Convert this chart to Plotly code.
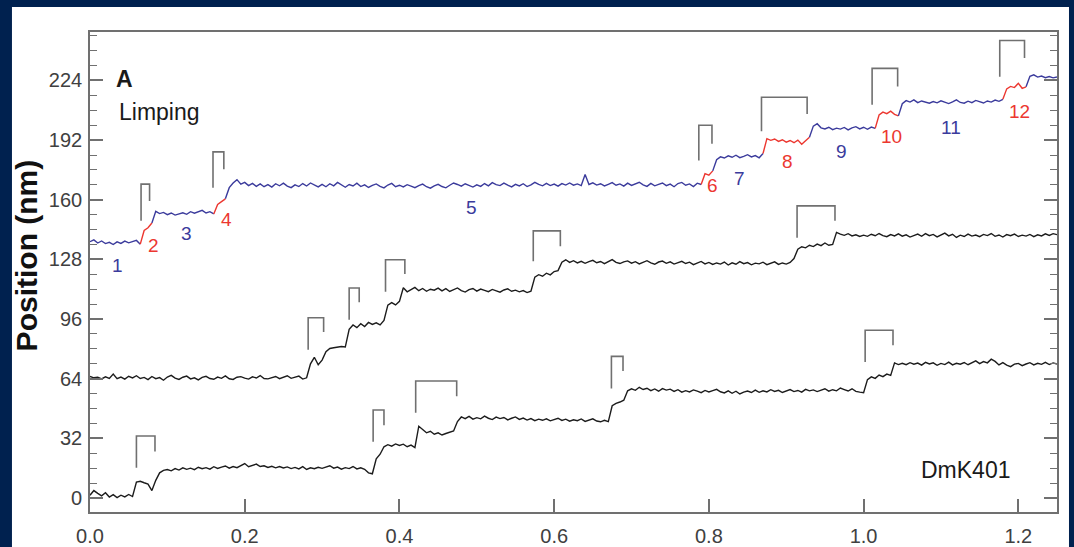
import plotly.graph_objects as go

# ---------------- data ----------------
SAMPLE_DT = 0.005  # s between samples

limping_nm = [
    137.5, 138.5, 136.8, 137.9, 136.5, 137.2, 136.0, 137.4, 136.6, 137.8,
    136.9, 137.5, 138.2, 136.2, 143.5, 145.0, 147.5, 153.8, 152.6, 153.2,
    152.0, 152.9, 151.8, 152.5, 153.0, 152.2, 153.6, 152.8, 153.4, 154.3,
    152.9, 153.6, 152.4, 157.5, 159.0, 160.5, 166.5, 169.0, 170.8, 168.4,
    169.3, 167.6, 168.8, 167.2, 168.5, 167.0, 168.1, 166.8, 168.6, 167.5,
    168.9, 167.3, 166.5, 168.0, 167.1, 168.7, 167.4, 169.0, 167.9, 166.9,
    168.3, 167.0, 168.6, 167.5, 169.3, 167.8, 166.7, 168.2, 167.4, 168.9,
    167.1, 168.0, 166.6, 167.7, 168.5, 167.2, 166.4, 167.9, 168.8, 167.0,
    167.8, 166.9, 168.1, 167.3, 166.5, 167.6, 168.4, 167.0, 166.2, 167.5,
    168.3, 167.1, 166.4, 167.8, 169.0, 168.2, 167.3, 168.6, 167.7, 166.8,
    168.0, 167.2, 168.7, 167.5, 169.2, 168.1, 167.6, 168.9, 167.8, 166.9,
    168.3, 167.4, 168.6, 167.1, 168.0, 169.3, 168.2, 167.5, 168.8, 167.6,
    168.4, 167.3, 168.7, 167.9, 169.0, 167.8, 168.5, 167.6, 173.5, 168.2,
    169.1, 167.9, 168.6, 167.4, 168.3, 169.2, 167.8, 168.5, 167.3, 168.9,
    167.7, 168.6, 169.4, 168.0, 167.2, 168.8, 167.5, 168.3, 169.0, 167.6,
    168.4, 167.0, 168.7, 169.3, 167.8, 168.5, 167.1, 168.9, 168.2, 174.0,
    173.2, 175.5, 181.5, 183.0, 182.4, 183.6, 182.8, 183.9, 182.6, 183.3,
    184.2, 183.0, 183.7, 182.5, 184.8, 192.8, 191.9, 192.6, 191.3, 192.2,
    190.9, 191.8, 190.6, 192.0, 189.8, 191.4, 193.5, 199.5, 200.8, 198.6,
    198.0, 198.9, 197.6, 198.4, 197.9, 198.8, 197.5, 198.6, 199.2, 198.0,
    198.9, 197.8, 199.0, 198.3, 205.5, 207.0, 206.2, 207.5, 205.8, 205.0,
    211.5, 213.2, 212.4, 213.6, 212.1, 213.0, 212.3, 211.8, 212.7, 212.0,
    213.1, 212.4, 211.6, 212.5, 213.6, 212.2, 211.8, 212.9, 212.1, 213.3,
    212.5, 211.9, 213.0, 212.4, 213.5, 212.8, 213.9, 219.5, 220.8, 220.2,
    222.5, 219.8, 220.6, 226.2, 227.0, 225.8, 226.4, 225.5, 226.1, 225.4,
    225.9,
]
# dwell segments of the limping trace: start/end times and colour
limp_seg_edges = [0.0, 0.065, 0.08, 0.16, 0.175, 0.79, 0.805, 0.87, 0.93, 1.015, 1.045, 1.18, 1.21, 1.25]
limp_seg_kind = ["blue", "red", "blue", "red", "blue", "red", "blue", "red", "blue", "red", "blue", "red", "blue"]

middle_nm = [
    65.2, 64.5, 64.8, 63.9, 65.0, 64.2, 66.5, 64.0, 64.9, 63.8,
    65.3, 64.4, 65.6, 64.1, 64.7, 63.5, 65.2, 64.0, 64.6, 63.2,
    64.9, 65.8, 64.3, 63.6, 64.8, 65.4, 63.9, 64.5, 63.4, 64.7,
    65.3, 64.1, 63.7, 64.9, 64.2, 65.5, 64.0, 63.6, 64.8, 65.1,
    64.3, 63.8, 65.0, 64.4, 65.7, 64.1, 63.9, 64.6, 65.2, 64.0,
    64.8, 65.6, 64.2, 64.9, 65.4, 63.8, 64.5, 72.0, 75.5, 71.5,
    74.0, 78.5, 80.2, 80.6, 80.9, 81.3, 81.0, 90.5, 92.8, 91.4,
    93.5, 92.0, 94.2, 93.1, 94.0, 92.9, 95.3, 103.5, 104.8, 103.6,
    105.5, 112.8, 110.6, 111.8, 113.0, 111.2, 112.4, 110.9, 112.0, 111.5,
    112.6, 111.1, 112.3, 110.8, 111.9, 112.7, 111.3, 110.5, 111.8, 112.4,
    111.0, 112.1, 111.4, 110.7, 111.9, 111.2, 110.4, 111.6, 112.2, 110.9,
    111.5, 110.6, 111.3, 110.2, 111.0, 118.5, 119.8, 119.0, 120.6, 119.7,
    121.5, 122.0, 126.5, 127.8, 126.4, 127.3, 126.1, 127.0, 125.9, 126.8,
    127.5, 126.2, 126.9, 125.7, 126.6, 127.9, 126.4, 125.8, 126.7, 127.2,
    126.0, 126.8, 125.6, 126.5, 127.3, 126.1, 125.4, 126.6, 127.1, 125.9,
    126.7, 125.5, 126.3, 127.0, 125.8, 126.5, 125.2, 126.0, 126.9, 125.6,
    126.4, 125.3, 126.1, 125.5, 126.6, 125.0, 126.2, 125.4, 126.8, 125.7,
    126.3, 125.1, 126.0, 125.6, 126.5, 125.2, 125.9, 126.7, 125.3, 126.1,
    125.5, 126.4, 128.5, 133.5, 134.8, 134.2, 135.6, 134.9, 136.2, 135.4,
    136.8, 135.6, 136.0, 142.5, 141.6, 140.9, 141.8, 140.6, 141.2, 140.3,
    141.0, 140.4, 141.5, 140.7, 141.9, 140.8, 140.2, 141.3, 140.6, 141.7,
    140.5, 141.2, 140.0, 140.9, 141.6, 140.4, 141.8, 140.7, 141.4, 140.1,
    141.2, 142.1, 140.6, 141.5, 139.8, 141.0, 140.3, 141.6, 140.5, 141.1,
    140.2, 141.4, 140.8, 141.9, 140.4, 141.1, 140.0, 141.3, 140.7, 141.6,
    140.3, 141.0, 140.5, 141.4, 140.2, 141.2, 140.6, 141.7, 140.9, 141.8,
    141.3,
]

bottom_nm = [
    1.5, 4.0, 2.5, 1.2, 2.8, 0.5, 1.8, 0.2, 1.5, 0.6,
    1.9, 0.8, 8.5, 9.0, 8.2, 7.5, 4.0, 9.5, 13.5, 14.8,
    15.3, 14.6, 15.8, 15.0, 16.2, 15.4, 16.0, 15.2, 16.5, 15.7,
    16.3, 15.5, 16.8, 15.9, 16.6, 17.2, 16.0, 16.9, 16.3, 17.5,
    18.5, 16.8, 17.6, 18.2, 16.9, 17.3, 16.4, 17.0, 16.2, 16.9,
    16.1, 16.7, 15.8, 16.4, 15.6, 16.8, 15.3, 16.2, 15.7, 16.5,
    15.9, 16.7, 17.3, 16.0, 16.6, 15.5, 16.3, 15.8, 16.9, 15.6,
    16.2, 15.4, 13.5, 13.0, 21.0, 23.5, 27.5, 28.6, 27.8, 29.0,
    28.2, 28.9, 27.5, 28.4, 27.0, 38.5, 36.5, 35.0, 35.8, 34.2,
    35.0, 33.8, 34.6, 35.2, 36.0, 41.0, 43.5, 42.6, 43.8, 42.3,
    43.1, 42.5, 43.9, 42.8, 42.1, 43.4, 42.6, 43.2, 41.9, 42.8,
    43.5, 42.2, 42.9, 41.8, 42.6, 41.5, 42.3, 41.7, 42.5, 41.4,
    42.0, 42.8, 41.6, 42.3, 41.2, 42.0, 41.5, 42.4, 41.1, 41.8,
    42.5, 41.3, 40.9, 41.7, 41.0, 49.5, 50.8, 51.5, 52.5, 57.5,
    58.6, 57.8, 59.4, 58.2, 58.9, 57.6, 58.5, 57.3, 58.7, 57.9,
    58.4, 57.2, 58.1, 56.8, 57.6, 56.9, 58.0, 57.3, 56.5, 57.7,
    56.9, 57.6, 58.3, 57.0, 56.4, 57.5, 56.2, 57.3, 55.8, 56.8,
    57.4, 56.6, 57.9, 56.7, 57.5, 56.9, 58.1, 57.2, 57.8, 56.6,
    57.4, 58.2, 57.1, 57.7, 56.8, 58.3, 57.5, 58.0, 57.1, 57.9,
    58.6, 57.3, 58.1, 57.5, 59.0, 58.2, 57.4, 58.6, 57.2, 56.8,
    56.5, 63.5, 65.0, 64.2, 66.0, 65.1, 66.5, 65.8, 72.5, 71.6,
    72.3, 71.5, 72.6, 71.8, 72.4, 71.3, 72.8, 71.9, 72.5, 71.2,
    72.2, 71.6, 72.9, 71.4, 72.3, 71.8, 72.7, 71.5, 72.4, 73.6,
    72.1, 73.2, 72.5, 74.5, 73.3, 71.4, 72.6, 71.3, 70.5, 71.8,
    72.2, 71.0, 71.9, 72.6, 71.4, 72.3, 71.7, 72.8, 71.6, 72.5,
    71.9,
]

# step brackets: left time, right time, top, bottom of left leg, bottom of right leg
bracket_t0 = [0.066, 0.159, 0.787, 0.868, 1.011, 1.176, 0.282, 0.335, 0.382, 0.573, 0.914, 0.060, 0.366, 0.421, 0.674, 1.002]
bracket_t1 = [0.077, 0.173, 0.804, 0.927, 1.044, 1.208, 0.302, 0.348, 0.407, 0.608, 0.963, 0.084, 0.380, 0.474, 0.689, 1.038]
bracket_top = [168.4, 185.7, 200.0, 215.0, 230.5, 245.4, 96.7, 112.7, 127.8, 143.3, 156.7, 33.3, 47.2, 62.8, 76.0, 90.0]
bracket_lbot = [148.7, 166.5, 181.0, 196.7, 211.0, 226.0, 79.6, 95.6, 110.7, 127.0, 139.6, 16.2, 30.2, 45.7, 58.8, 73.0]
bracket_rbot = [159.3, 176.4, 190.0, 206.0, 220.7, 236.0, 89.0, 105.0, 120.2, 135.0, 148.7, 24.9, 39.0, 54.6, 68.2, 81.9]

# dwell labels of the limping trace
dwell_labels = ["1", "2", "3", "4", "5", "6", "7", "8", "9", "10", "11", "12"]
dwell_label_t = [0.036, 0.082, 0.125, 0.177, 0.493, 0.805, 0.839, 0.901, 0.971, 1.036, 1.113, 1.201]
dwell_label_nm = [124.6, 135.3, 141.7, 149.6, 155.6, 167.4, 171.6, 180.7, 186.0, 194.0, 198.9, 207.4]
dwell_label_kind = ["blue", "red", "blue", "red", "blue", "red", "blue", "red", "blue", "red", "blue", "red"]

x_ticks = [0.0, 0.2, 0.4, 0.6, 0.8, 1.0, 1.2]
y_ticks = [0, 32, 64, 96, 128, 160, 192, 224]

# ---------------- styling ----------------
NAVY = "#00214f"
BLUE = "#3b3b9c"
RED = "#ec3730"
BLACK = "#1c1c1c"
GRAY = "#707070"
FONT = "Liberation Sans, Arial, Helvetica, sans-serif"
COL = {"blue": BLUE, "red": RED}


def times(n):
    return [round(i * SAMPLE_DT, 4) for i in range(n)]


fig = go.Figure()

# black traces
for vals in (middle_nm, bottom_nm):
    fig.add_trace(go.Scatter(x=times(len(vals)), y=vals, mode="lines",
                             line=dict(color=BLACK, width=1.4),
                             hoverinfo="skip", showlegend=False))

# limping trace by segments
t_limp = times(len(limping_nm))
for k, kind in enumerate(limp_seg_kind):
    i0 = int(round(limp_seg_edges[k] / SAMPLE_DT))
    i1 = int(round(limp_seg_edges[k + 1] / SAMPLE_DT))
    fig.add_trace(go.Scatter(x=t_limp[i0:i1 + 1], y=limping_nm[i0:i1 + 1], mode="lines",
                             line=dict(color=COL[kind], width=1.4),
                             hoverinfo="skip", showlegend=False))

# brackets
bx, by = [], []
for a, b, top, lb, rb in zip(bracket_t0, bracket_t1, bracket_top, bracket_lbot, bracket_rbot):
    bx += [a, a, b, b, None]
    by += [lb, top, top, rb, None]
fig.add_trace(go.Scatter(x=bx, y=by, mode="lines", line=dict(color=GRAY, width=1.6),
                         hoverinfo="skip", showlegend=False))

# dwell labels
for txt, t, v, kind in zip(dwell_labels, dwell_label_t, dwell_label_nm, dwell_label_kind):
    fig.add_annotation(x=t, y=v, text=txt, showarrow=False,
                       font=dict(family=FONT, size=19, color=COL[kind]))

fig.add_annotation(x=0.045, y=225, xanchor="center", text="<b>A</b>", showarrow=False,
                   font=dict(family=FONT, size=23, color="#1a1a1a"))
fig.add_annotation(x=0.035, y=207, xanchor="left", text="Limping", showarrow=False,
                   font=dict(family=FONT, size=23, color="#1a1a1a"))
fig.add_annotation(x=1.071, y=15, xanchor="left", text="DmK401", showarrow=False,
                   font=dict(family=FONT, size=23, color="#1a1a1a"))

# y axis title
fig.add_annotation(xref="paper", yref="paper", x=-0.066, y=0.535, xanchor="center", yanchor="middle",
                   text="<b>Position (nm)</b>", textangle=-90, showarrow=False,
                   font=dict(family=FONT, size=30, color="#111111"))

# white panel on navy page
fig.add_shape(type="rect", xref="paper", yref="paper", x0=-0.0807, x1=1.0124, y0=-0.2, y1=1.052,
              fillcolor="white", line=dict(width=0), layer="below")

fig.update_xaxes(range=[0, 1.25], tickmode="array", tickvals=x_ticks,
                 ticktext=[f"{v:.1f}" for v in x_ticks],
                 ticks="inside", ticklen=13, tickwidth=1.5, tickcolor=GRAY,
                 showline=True, linecolor=GRAY, linewidth=1.6, mirror=True,
                 showgrid=False, zeroline=False, ticklabelstandoff=5, automargin=False,
                 tickfont=dict(family=FONT, size=20, color="#404040"))
fig.update_yaxes(range=[-7.5, 250], tickmode="array", tickvals=y_ticks,
                 ticks="inside", ticklen=13, tickwidth=1.5, tickcolor=GRAY,
                 minor=dict(tickmode="linear", tick0=0, dtick=8, ticks="inside", ticklen=7,
                            tickwidth=1.3, tickcolor=GRAY, showgrid=False),
                 showline=True, linecolor=GRAY, linewidth=1.6, mirror="ticks",
                 showgrid=False, zeroline=False, ticklabelstandoff=2, automargin=False,
                 tickfont=dict(family=FONT, size=20, color="#404040"))

fig.update_layout(template="none", width=1074, height=547, paper_bgcolor=NAVY, plot_bgcolor="white",
                  margin=dict(l=90, r=17, t=32, b=35, autoexpand=False), showlegend=False)

fig.write_html(
    "out.html",
    config={"displayModeBar": False},
    post_script="document.body.style.margin='0';document.body.style.background='" + NAVY + "';",
)
